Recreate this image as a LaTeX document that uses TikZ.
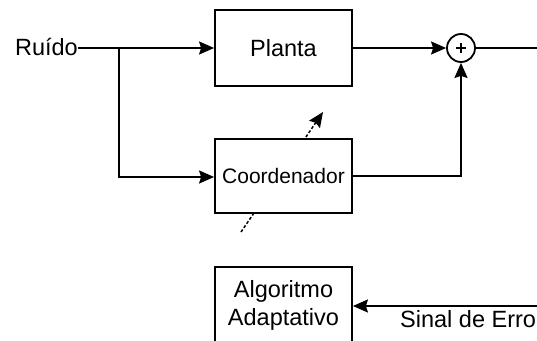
\documentclass[tikz,border=0pt]{standalone}
\usepackage{fontspec}
\setmainfont{Liberation Sans}
\usetikzlibrary{arrows.meta,calc}
\begin{document}
\begin{tikzpicture}[x=1pt,y=-1pt,
  line/.style={line width=1.8pt},
  arr/.style={line, -{Stealth[length=15pt,width=13pt,inset=2pt]}},
  blockbox/.style={draw, line width=1.8pt, fill=white, minimum width=137pt, inner sep=0pt,
    font=\fontsize{23.5}{28}\selectfont, align=center},
  lbl/.style={inner sep=0pt, font=\fontsize{23.5}{28}\selectfont}
]
\useasboundingbox (0,0) rectangle (537,340);
% dashed adaptation arrow (drawn under Coordenador)
\coordinate (d1) at (241,232);
\coordinate (d2) at (323,112);
\draw[line width=1.5pt, dash pattern=on 3pt off 2pt, -{Stealth[length=15pt,width=13pt,inset=2pt]}] (d1) -- (d2);

\node[blockbox, minimum height=76pt] (planta) at (283.5,48) {Planta};
\node[blockbox, minimum height=74pt, font=\fontsize{21}{25}\selectfont] (coord) at (283.5,176) {Coordenador};
\node[blockbox, minimum height=76pt] (alg) at (283.5,305) {Algoritmo\\Adaptativo};

\node[lbl, anchor=base east] (ruido) at (78,55) {Ruído};
\node[draw, circle, line width=1.8pt, minimum size=28pt, inner sep=0pt] (sum) at (461,48) {};
\draw[line width=1.4pt] ($(sum.center)+(-5,0)$) -- ($(sum.center)+(5,0)$)
  ($(sum.center)+(0,-5)$) -- ($(sum.center)+(0,5)$);

\coordinate (br) at (119,48);
\coordinate (out) at (537,48);
\coordinate (erro) at (537,306);

\draw[arr] (ruido.east |- planta.west) -- (planta.west);
\draw[arr] (br) -- (br |- 0,177) -- (coord.west |- 0,177);
\draw[arr] (planta.east) -- (sum.west);
\draw[arr] (coord.east) -| (sum.south);
\draw[line] (sum.east) -- (out);
\draw[arr] (erro) -- (alg.east |- erro);
\node[lbl, anchor=base west] (sinal) at (400,327) {Sinal de Erro};
\end{tikzpicture}
\end{document}
